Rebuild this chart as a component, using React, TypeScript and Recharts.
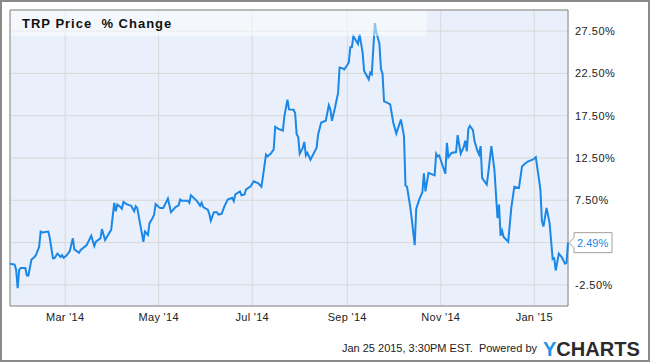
import React from 'react';
import { LineChart, Line, XAxis, YAxis, CartesianGrid, ReferenceArea } from 'recharts';

// Day offsets counted from START_DATE (Jan 24 2014) to Jan 23 2015
const START_DATE = '2014-01-24';
const END_DATE = '2015-01-23';

const dayOffsets = [
  0, 3, 4, 5, 6, 7, 10, 11, 12, 14, 16, 17, 19, 20, 21, 25, 26, 28, 29, 31,
  33, 34, 35, 37, 39, 41, 42, 45, 46, 50, 53, 55, 56, 59, 60, 62, 66, 68, 69, 70,
  72, 73, 74, 76, 79, 81, 82, 83, 85, 87, 88, 90, 91, 93, 94, 95, 97, 98, 100, 103,
  105, 108, 110, 111, 112, 116, 117, 118, 122, 124, 125, 126, 129, 130, 131, 133, 135, 136, 138, 140,
  142, 145, 146, 147, 150, 151, 153, 154, 157, 159, 162, 164, 165, 167, 168, 170, 172, 173, 175, 178,
  179, 181, 182, 185, 186, 187, 188, 189, 191, 192, 193, 194, 196, 198, 200, 201, 203, 206, 208, 209,
  210, 212, 214, 215, 217, 218, 220, 221, 222, 223, 224, 225, 227, 228, 230, 231, 234, 235, 236, 238,
  239, 241, 242, 243, 244, 246, 248, 250, 252, 255, 257, 258, 259, 261, 262, 264, 265, 267, 269, 270,
  271, 273, 277, 278, 279, 280, 282, 284, 285, 286, 288, 291, 292, 294, 296, 297, 298, 299, 300, 302,
  303, 305, 306, 307, 308, 310, 311, 312, 314, 316, 318, 319, 320, 321, 322, 325, 327, 329, 332, 334,
  336, 338, 341, 343, 346, 347, 348, 350, 352, 354, 355, 356, 358, 360, 362, 363, 364,
];

const pctChange = [
  0.0, -0.1, -0.7, -2.9, -0.7, -0.5, -0.5, -1.4, -1.4, 0.5, 0.8, 1.05, 2.0, 3.8, 3.7, 3.8, 3.0, 0.65, 0.65, 1.2,
  0.8, 1.0, 0.7, 1.0, 1.5, 3.0, 1.7, 1.3, 1.6, 2.2, 3.3, 2.1, 2.6, 3.0, 4.1, 2.8, 4.0, 7.2, 6.2, 7.0,
  6.7, 6.5, 7.3, 7.05, 6.85, 6.2, 6.8, 6.6, 4.6, 2.6, 3.8, 3.4, 4.8, 5.4, 5.8, 7.05, 6.7, 6.6, 6.6, 7.7,
  6.1, 6.7, 6.9, 7.6, 7.45, 7.45, 7.2, 8.1, 7.4, 6.85, 7.2, 6.7, 6.4, 5.9, 5.1, 6.1, 6.1, 5.8, 5.9, 6.85,
  7.6, 7.8, 7.4, 8.2, 8.55, 8.1, 8.2, 8.8, 9.15, 9.75, 9.5, 9.1, 10.3, 12.9, 12.7, 13.0, 13.5, 16.2, 15.95, 15.75,
  17.45, 19.4, 18.25, 18.2, 17.8, 15.3, 15.0, 13.0, 13.7, 14.4, 12.8, 13.1, 12.3, 13.0, 13.7, 15.3, 16.7, 16.9, 18.75, 18.25,
  16.9, 18.45, 20.2, 23.2, 23.1, 22.95, 23.5, 23.8, 25.6, 25.6, 26.9, 26.6, 26.0, 27.15, 25.0, 22.8, 21.8, 22.6, 22.4, 28.45,
  27.35, 26.0, 23.0, 22.5, 19.2, 19.05, 18.85, 16.7, 15.4, 17.05, 15.1, 9.25, 9.1, 6.8, 5.4, 2.2, 6.5, 7.6, 8.45, 10.7,
  8.55, 10.75, 10.45, 13.0, 12.7, 12.8, 11.7, 10.65, 14.3, 12.6, 13.1, 13.2, 15.2, 13.0, 13.8, 14.55, 13.3, 15.95, 16.3, 15.8,
  14.5, 13.3, 12.9, 13.9, 10.15, 9.6, 9.35, 10.75, 13.9, 11.1, 5.4, 7.0, 3.3, 3.9, 3.15, 2.6, 6.6, 9.1, 8.95, 11.5,
  11.85, 12.1, 12.3, 12.6, 8.75, 5.0, 4.4, 6.6, 4.8, 0.55, 0.65, -0.8, 1.2, 0.75, 0.0, 0.1, 2.49,
];

const tickDates = ['2014-03-01', '2014-05-01', '2014-07-01', '2014-09-01', '2014-11-01', '2015-01-01'];
const tickLabels = ["Mar '14", "May '14", "Jul '14", "Sep '14", "Nov '14", "Jan '15"];
const yTicks = [-2.5, 2.5, 7.5, 12.5, 17.5, 22.5, 27.5];
// The 2.50% tick label is covered by the last-value flag in the reference
const yTicksHiddenLabel = [2.5];
const yDomain = [-5, 30];

const TITLE = 'TRP Price  % Change';
const FOOTER = 'Jan 25 2015, 3:30PM EST.  Powered by';

const DAY_MS = 86400000;
const toOffset = (d: string) => Math.round((Date.parse(d) - Date.parse(START_DATE)) / DAY_MS);
const lastDay = toOffset(END_DATE);

const data = dayOffsets.map((d, i) => ({ day: d, pct: pctChange[i] }));
const xTicks = tickDates.map(toOffset);
const tickLabelMap: Record<number, string> = {};
xTicks.forEach((t, i) => { tickLabelMap[t] = tickLabels[i]; });

const FONT = '"Liberation Sans", Arial, Helvetica, sans-serif';
const LINE_COLOR = '#1b87e6';

function EndLabel(props: any) {
  const { x, y, index, value } = props;
  if (index !== data.length - 1) return null;
  const bx = x + 6;
  const bw = 38;
  const h = 10;
  const d = `M${x + 1},${y} L${bx},${y - 5} L${bx},${y - h} L${bx + bw},${y - h} L${bx + bw},${y + h} L${bx},${y + h} L${bx},${y + 5} Z`;
  return (
    <g>
      <path d={d} fill="#ffffff" stroke="#a0a0a0" strokeWidth={1} />
      <text x={bx + 3} y={y + 4} fill={LINE_COLOR} fontSize={11} fontFamily={FONT}>
        {Number(value).toFixed(2)}%
      </text>
    </g>
  );
}

export default function App() {
  return (
    <div style={{ position: 'absolute', left: 0, top: 0, width: 650, height: 362, background: '#ffffff' }}>
      <LineChart width={650} height={362} data={data} margin={{ top: 10, right: 0, bottom: 0, left: 10 }}>
        <CartesianGrid stroke="#d8d8d8" fill="#e9f0fb" />
        <XAxis
          dataKey="day"
          type="number"
          domain={[0, lastDay]}
          ticks={xTicks}
          interval={0}
          tickFormatter={(v: number) => tickLabelMap[v] ?? ''}
          height={56}
          tickLine={false}
          axisLine={false}
          tickSize={0}
          tickMargin={7}
          tick={{ fontSize: 11, fill: '#222', fontFamily: FONT, letterSpacing: 0.3 }}
        />
        <YAxis
          orientation="right"
          type="number"
          domain={yDomain}
          ticks={yTicks}
          interval={0}
          tickFormatter={(v: number) => (yTicksHiddenLabel.includes(v) ? '' : `${v.toFixed(2)}%`)}
          width={82}
          tickLine={false}
          axisLine={false}
          tickSize={0}
          tickMargin={7}
          tick={{ fontSize: 11, fill: '#222', fontFamily: FONT, letterSpacing: 0.5 }}
        />
        <Line
          type="linear"
          dataKey="pct"
          stroke={LINE_COLOR}
          strokeWidth={2}
          dot={false}
          activeDot={false}
          isAnimationActive={false}
          label={EndLabel}
        />
        <ReferenceArea
          x1={0}
          x2={lastDay}
          y1={yDomain[0]}
          y2={yDomain[1]}
          fill="none"
          fillOpacity={0}
          stroke="#8c8c8c"
          strokeWidth={1}
          ifOverflow="visible"
        />
      </LineChart>
      <svg
        width={650}
        height={362}
        style={{ position: 'absolute', left: 0, top: 0, pointerEvents: 'none' }}
      >
        <rect x={11} y={11} width={416} height={25} fill="#ffffff" fillOpacity={0.5} />
        <text
          x={22}
          y={28}
          fontSize={13}
          fontWeight="bold"
          fill="#111"
          fontFamily={FONT}
          letterSpacing={1}
          style={{ whiteSpace: 'pre' }}
        >
          {TITLE}
        </text>
        <text
          x={537}
          y={352}
          textAnchor="end"
          fontSize={11}
          fill="#222"
          fontFamily={FONT}
          style={{ whiteSpace: 'pre' }}
        >
          {FOOTER}
        </text>
        <text x={543} y={356} fontSize={20} fontWeight="bold" fontFamily={FONT} textLength={97} lengthAdjust="spacingAndGlyphs">
          <tspan fill="#1e96e8">Y</tspan>
          <tspan fill="#2b2b2b">CHARTS</tspan>
        </text>
        <rect x={1} y={1} width={648} height={360} fill="none" stroke="#8a8a8a" strokeWidth={2} />
      </svg>
    </div>
  );
}
